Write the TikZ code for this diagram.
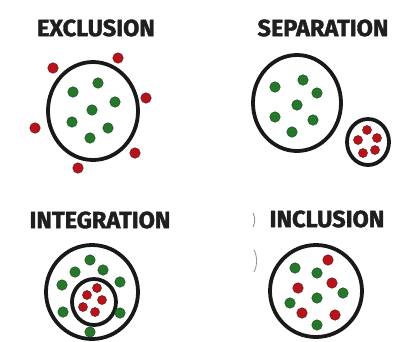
\documentclass[tikz,border=0pt]{standalone}
\usepackage{fontspec}
\setmainfont{Fira Sans}
\newfontfamily\titlefont{Fira Sans}[BoldFeatures={FakeBold=1.6}]
\usetikzlibrary{positioning, shapes.geometric}
\definecolor{dotgreen}{RGB}{38,118,44}
\definecolor{dotred}{RGB}{178,22,28}

\begin{document}
\begin{tikzpicture}[
    x=1pt, y=-1pt,
    title/.style={font=\titlefont\fontsize{23.5}{23.5}\selectfont\bfseries, text=black!88, inner sep=0pt},
    ring/.style={draw=black!90, line width=3.8pt, ellipse, inner sep=0pt},
    gdot/.style={circle, fill=dotgreen, draw=dotgreen!70!black, line width=0.5pt, minimum size=10.5pt, inner sep=0pt},
    rdot/.style={circle, fill=dotred, draw=dotred!70!black, line width=0.5pt, minimum size=10.5pt, inner sep=0pt},
    mark line/.style={draw=black!45, line width=0.8pt}
]
\useasboundingbox (0,0) rectangle (396,341);

% exclusion
\node[title] (exclTitle) at (96,28) {EXCLUSION};
\node[ring, minimum width=90pt, minimum height=98pt] (exclRing) at (93,111) {};
\foreach \x/\y [count=\i] in {73/92, 98/83, 115/102, 92/110, 72/122, 108/128, 90/138}
  \node[gdot] (exclG\i) at (\x,\y) {};
\foreach \x/\y [count=\i] in {53/68, 118/58, 146/98, 35/128, 135/153, 78/168}
  \node[rdot] (exclR\i) at (\x,\y) {};

% separation
\node[title] (sepTitle) at (323,28) {SEPARATION};
\node[ring, minimum width=88pt, minimum height=96pt] (sepRing) at (297,103) {};
\foreach \x/\y [count=\i] in {275/87, 303/80, 317/93, 297/105, 275/117, 313/120, 292/132}
  \node[gdot] (sepG\i) at (\x,\y) {};
\node[ring, minimum width=42pt, minimum height=46pt] (sepSmall) at (368,142) {};
\foreach \x/\y [count=\i] in {367/130, 377/138, 358/140, 375/150, 363/153}
  \node[rdot, minimum size=9pt] (sepR\i) at (\x,\y) {};

% integration
\node[title] (integTitle) at (100,220) {INTEGRATION};
\node[ring, minimum width=92pt, minimum height=94pt] (integRing) at (92,292) {};
\node[ring, minimum width=44pt, minimum height=46pt] (integInner) at (94,302) {};
\foreach \x/\y [count=\i] in {90/260, 75/272, 103/270, 62/285, 120/282, 63/312, 120/313, 90/332}
  \node[gdot] (integG\i) at (\x,\y) {};
\foreach \x/\y [count=\i] in {97/288, 87/295, 102/300, 83/307, 95/312}
  \node[rdot, minimum size=9pt] (integR\i) at (\x,\y) {};

% inclusion
\node[title] (inclTitle) at (327,219) {INCLUSION};
\node[ring, minimum width=92pt, minimum height=92pt] (inclRing) at (316,291) {};
\foreach \x/\y [count=\i] in {295/268, 317/273, 343/293, 290/303, 317/298, 317/325}
  \node[gdot] (inclG\i) at (\x,\y) {};
\foreach \x/\y [count=\i] in {328/260, 298/288, 332/283, 302/313, 335/315}
  \node[rdot] (inclR\i) at (\x,\y) {};

% stray pen marks
\draw[mark line] (253,213) to[bend left=25] (253,227);
\draw[mark line] (254,250) to[bend left=25] (254,272);
\end{tikzpicture}
\end{document}
